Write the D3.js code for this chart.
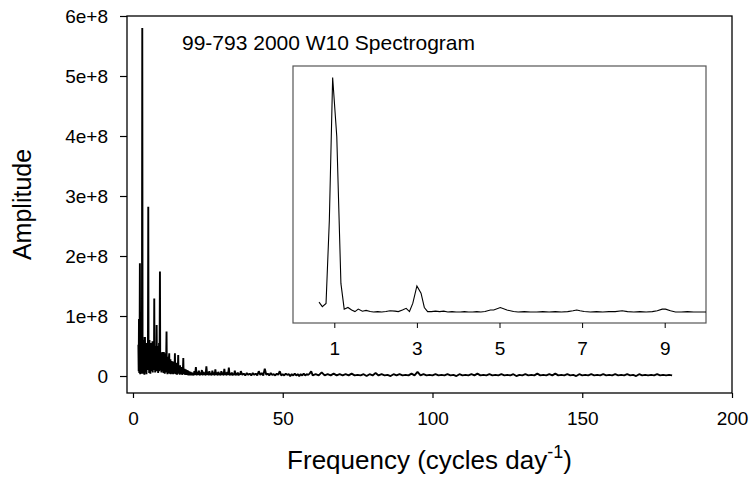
<!DOCTYPE html>
<html>
<head>
<meta charset="utf-8">
<script src="https://cdn.jsdelivr.net/npm/d3@7"></script>
<style>
  body { margin: 0; background: #fff; }
  svg { display: block; font-family: "Liberation Sans", Arial, sans-serif; }
</style>
</head>
<body>
<svg id="chart" width="750" height="479"></svg>
<script>
// amplitudes are stored in millions (1e6), frequencies in cycles per day
const titleText = "99-793 2000 W10 Spectrogram";

const yTicks = [0, 1e8, 2e8, 3e8, 4e8, 5e8, 6e8];
const yTickLabels = ["0", "1e+8", "2e+8", "3e+8", "4e+8", "5e+8", "6e+8"];
const xTicks = [0, 50, 100, 150, 200];
const insetTicks = [1, 3, 5, 7, 9];

// main spectrum: low frequency part (dense)
const mainLow = [
  [1.8,52],[1.9,8],[2.0,95],[2.1,5],[2.2,40],[2.3,188],[2.4,3],[2.5,55],[2.6,10],[2.7,62],
  [2.8,4],[2.9,30],[3.0,120],[3.1,580],[3.2,20],[3.3,65],[3.4,4],[3.5,45],[3.6,8],[3.7,60],
  [3.8,2],[3.9,40],[4.0,65],[4.1,6],[4.2,50],[4.3,12],[4.4,45],[4.5,3],[4.6,55],[4.7,20],
  [4.8,48],[4.9,10],[5.0,60],[5.1,282],[5.2,15],[5.3,50],[5.4,5],[5.5,60],[5.6,12],[5.7,45],
  [5.8,4],[5.9,50],[6.0,15],[6.1,55],[6.2,8],[6.3,40],[6.4,20],[6.5,58],[6.6,6],[6.7,45],
  [6.8,18],[6.9,52],[7.0,10],[7.1,129],[7.2,12],[7.3,48],[7.4,6],[7.5,42],[7.6,18],[7.7,50],
  [7.8,10],[7.9,85],[8.0,8],[8.1,45],[8.2,15],[8.3,50],[8.4,5],[8.5,40],[8.6,18],[8.7,55],
  [8.8,8],[8.9,60],[9.0,174],[9.1,10],[9.2,40],[9.3,18],[9.4,35],[9.5,6],[9.6,38],[9.7,12],
  [9.8,30],[9.9,40],[10.0,8],[10.1,35],[10.2,5],[10.3,40],[10.4,10],[10.5,30],[10.6,4],[10.7,38],
  [10.8,12],[10.9,28],[11.0,6],[11.1,35],[11.2,74],[11.3,8],[11.4,30],[11.5,3],[11.6,32],[11.7,10],
  [11.8,25],[11.9,5],[12.0,30],[12.1,38],[12.2,4],[12.3,26],[12.4,8],[12.5,28],[12.6,3],[12.7,22],
  [12.8,9],[12.9,25],[13.0,4],[13.1,20],[13.2,7],[13.3,24],[13.4,3],[13.5,18],[13.6,8],[13.7,22],
  [13.8,4],[13.9,16],[14.0,38],[14.1,5],[14.2,20],[14.3,3],[14.4,18],[14.5,8],[14.6,22],[14.7,2],
  [14.8,15],[14.9,6],[15.0,18],[15.1,35],[15.2,4],[15.3,16],[15.4,7],[15.5,14],[15.6,2],[15.7,18],
  [15.8,5],[15.9,12],[16.0,3],[16.1,15],[16.2,6],[16.3,12],[16.4,2],[16.5,10],[16.6,5],[16.7,14],
  [16.8,30],[16.9,3],[17.0,10],[17.1,4],[17.2,12],[17.3,2],[17.4,9],[17.5,5],[17.6,11],[17.7,2],
  [17.8,8],[17.9,4],[18.0,10],[18.1,2],[18.2,7],[18.3,3],[18.4,9],[18.5,1],[18.6,6],[18.7,3],
  [18.8,8],[18.9,1],[19.0,6],[19.1,2],[19.2,7],[19.3,1],[19.4,5],[19.5,2],[19.6,6],[19.7,1],
  [19.8,4],[19.9,2],[20.0,5]
];

// main spectrum: tail
const mainTail = [
  [20.25,1],[20.5,8],[20.75,2],[21,15],[21.25,1],[21.5,7],[21.75,2],[22,9],[22.25,1],[22.5,6],
  [22.75,2],[23,10],[23.25,1],[23.5,7],[23.75,2],[24,6],[24.25,1],[24.5,16],[24.75,2],[25,7],
  [25.25,1],[25.5,8],[25.75,2],[26,5],[26.25,1],[26.5,9],[26.75,2],[27,6],[27.25,1],[27.5,11],
  [27.75,2],[28,6],[28.25,1],[28.5,7],[28.75,2],[29,5],[29.25,1],[29.5,8],[29.75,2],[30,6],
  [30.25,1],[30.5,12],[30.75,2],[31,6],[31.25,1],[31.5,7],[31.75,2],[32,14],[32.25,1],[32.5,5],
  [32.75,2],[33,6],[33.25,1],[33.5,4],[33.75,2],[34,9],[34.25,1],[34.5,5],[34.75,2],[35,6],
  [35.25,1],[35.5,4],[35.75,2],[36,8],
  [36.5,2],[37,4],[37.5,1],[38,5],[38.5,2],[39,4],[39.5,1],[40,5],
  [40.5,2],[41,4],[41.5,1],[42,8],[42.5,2],[43,5],[43.5,1],[44,12],[44.5,2],[45,4],
  [45.5,1],[46,5],[46.5,2],[47,3],[47.5,1],[48,4],[48.5,2],[49,8],[49.5,1],[50,3],
  [50.5,1],[51,4],[51.5,2],[52,3],[52.5,0],[53,3],[53.5,1],[54,4],[54.5,1],[55,3],
  [55.5,0],[56,3],[56.5,1],[57,4],[57.5,1],[58,3],[58.5,2],[59,4],[59.5,8],[60,1],
  [61,3],[62,1],[63,6],[64,1],[65,3],[66,1],[67,4],[68,1],[69,3],[70,1],
  [71,3],[72,1],[73,4],[74,1],[75,2],[76,1],[77,3],[78,0],[79,3],[80,1],
  [81,5],[82,1],[83,3],[84,1],[85,2],[86,0],[87,3],[88,1],[89,3],[90,1],
  [91,2],[92,1],[93,4],[94,1],[95,7],[96,1],[97,3],[98,1],[99,2],[100,1],
  [101,3],[102,1],[103,2],[104,1],[105,3],[106,1],[107,2],[108,0],[109,3],[110,1],
  [111,2],[112,1],[113,3],[114,1],[115,4],[116,1],[117,2],[118,1],[119,3],[120,1],
  [121,2],[122,1],[123,3],[124,1],[125,2],[126,1],[127,3],[128,0],[129,2],[130,1],
  [131,3],[132,1],[133,2],[134,1],[135,4],[136,1],[137,2],[138,1],[139,3],[140,1],
  [141,4],[142,1],[143,2],[144,1],[145,3],[146,1],[147,2],[148,0],[149,3],[150,1],
  [151,2],[152,1],[153,3],[154,1],[155,2],[156,1],[157,3],[158,1],[159,2],[160,1],
  [161,3],[162,1],[163,2],[164,1],[165,3],[166,1],[167,2],[168,0],[169,3],[170,1],
  [171,2],[172,1],[173,2],[174,1],[175,3],[176,1],[177,2],[178,1],[179,2],[180,1]
];

// inset: zoom on 0-10 cycles/day
const insetData = [
  [0.63,26],[0.71,15],[0.80,23],[0.88,227],[0.96,577],[1.06,432],[1.16,72],[1.24,9],[1.33,13],[1.42,7],
  [1.50,3],[1.58,9],[1.68,4],[1.77,6],[1.87,3],[1.95,2],[2.05,3],[2.15,2],[2.25,3],[2.35,5],
  [2.47,4],[2.55,3],[2.65,7],[2.74,11],[2.82,3],[2.90,23],[3.00,66],[3.10,48],[3.18,13],[3.26,3],
  [3.35,3],[3.45,4],[3.55,3],[3.65,4],[3.75,2],[3.85,3],[3.95,2],[4.05,2],[4.15,3],[4.25,2],
  [4.35,2],[4.45,3],[4.55,2],[4.65,3],[4.78,7],[4.86,7],[5.02,13],[5.18,7],[5.34,3],[5.45,2],
  [5.6,3],[5.75,2],[5.9,2],[6.05,3],[6.2,2],[6.35,3],[6.5,2],[6.65,3],[6.78,5],[6.87,7],
  [6.95,5],[7.05,3],[7.2,2],[7.35,3],[7.5,2],[7.65,3],[7.8,3],[7.97,5],[8.1,3],[8.25,2],
  [8.4,3],[8.55,2],[8.7,3],[8.82,5],[8.94,9],[9.02,9],[9.14,5],[9.26,2],[9.4,2],[9.55,3],
  [9.7,2],[9.85,2],[10.0,2]
];

const UNIT = 1e6;

const svg = d3.select("#chart");

// main plot box
const plot = { left: 127, right: 732, top: 16, bottom: 393 };

const x = d3.scaleLinear().domain([-2, 200]).range([plot.left, plot.right]);
const y = d3.scaleLinear().domain([-0.283e8, 6e8]).range([plot.bottom, plot.top]);

const line = d3.line()
    .x(d => x(d[0]))
    .y(d => y(d[1] * UNIT));

// spectrum
svg.append("path")
    .datum(mainLow.concat(mainTail))
    .attr("d", line)
    .attr("fill", "none")
    .attr("stroke", "#000")
    .attr("stroke-width", 1.9)
    .attr("stroke-linejoin", "bevel");

// frame
svg.append("rect")
    .attr("x", plot.left)
    .attr("y", plot.top)
    .attr("width", plot.right - plot.left)
    .attr("height", plot.bottom - plot.top)
    .attr("fill", "none")
    .attr("stroke", "#000")
    .attr("stroke-width", 1.3);

// y axis
const yAxis = svg.append("g")
    .attr("transform", `translate(${plot.left},0)`)
    .call(d3.axisLeft(y).tickValues(yTicks).tickSize(7).tickPadding(12)
        .tickFormat((d, i) => yTickLabels[i]));
yAxis.select(".domain").remove();

// x axis
const xAxis = svg.append("g")
    .attr("transform", `translate(0,${plot.bottom})`)
    .call(d3.axisBottom(x).tickValues(xTicks).tickSize(5).tickPadding(14));
xAxis.select(".domain").remove();

[yAxis, xAxis].forEach(a => {
  a.selectAll("text").attr("font-size", 19).attr("fill", "#000")
      .attr("font-family", "'Liberation Sans', Arial, sans-serif");
  a.selectAll("line").attr("stroke", "#000").attr("stroke-width", 1.2);
});

// chart title inside the plot
svg.append("text")
    .attr("x", 182)
    .attr("y", 50)
    .attr("font-size", 21)
    .text(titleText);

// axis titles
svg.append("text")
    .attr("transform", `translate(31,${(plot.top + plot.bottom) / 2}) rotate(-90)`)
    .attr("text-anchor", "middle")
    .attr("font-size", 25)
    .text("Amplitude");

const xTitle = svg.append("text")
    .attr("x", (plot.left + plot.right) / 2)
    .attr("y", 469)
    .attr("text-anchor", "middle")
    .attr("font-size", 26);
xTitle.append("tspan").text("Frequency (cycles day");
xTitle.append("tspan").attr("font-size", 18).attr("dy", -11).text("-1");
xTitle.append("tspan").attr("dy", 11).text(")");

// --- inset ---
const inset = { left: 293, right: 706, top: 66, bottom: 323 };
const ix = d3.scaleLinear().domain([0, 10]).range([inset.left, inset.right]);
const iy = d3.scaleLinear().domain([-25, 605]).range([inset.bottom, inset.top]);

svg.append("rect")
    .attr("x", inset.left)
    .attr("y", inset.top)
    .attr("width", inset.right - inset.left)
    .attr("height", inset.bottom - inset.top)
    .attr("fill", "#fff")
    .attr("stroke", "#555")
    .attr("stroke-width", 1.2);

svg.append("path")
    .datum(insetData)
    .attr("d", d3.line().x(d => ix(d[0])).y(d => iy(d[1])))
    .attr("fill", "none")
    .attr("stroke", "#000")
    .attr("stroke-width", 1.1);

const insetAxis = svg.append("g")
    .attr("transform", `translate(0,${inset.bottom})`)
    .call(d3.axisBottom(ix).tickValues(insetTicks).tickSize(5).tickPadding(14));
insetAxis.select(".domain").remove();
insetAxis.selectAll("text").attr("font-size", 19).attr("fill", "#000")
    .attr("font-family", "'Liberation Sans', Arial, sans-serif");
insetAxis.selectAll("line").attr("stroke", "#000");
</script>
</body>
</html>
